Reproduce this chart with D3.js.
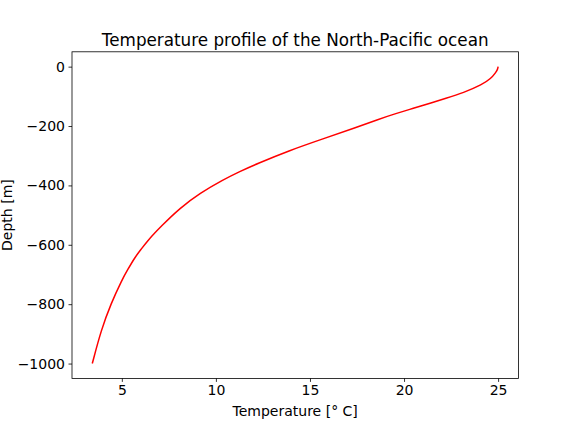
<!DOCTYPE html>
<html><head><meta charset="utf-8">
<script src="https://cdn.jsdelivr.net/npm/d3@7"></script>
<style>body{margin:0;background:#fff}svg{display:block}text{font-family:"DejaVu Sans",sans-serif;fill:#000}</style>
</head><body><svg id="c" width="576" height="432"></svg>
<script>
const depth = [0, -10, -20, -40, -60, -88, -107, -124, -141, -158, -177, -206, -243, -282, -328, -353, -381, -426, -476, -538, -583, -617, -640, -685, -719, -797, -887, -1000];
const temperature = [25.0, 24.97, 24.87, 24.62, 24.16, 23.15, 22.22, 21.34, 20.45, 19.57, 18.65, 17.4, 15.7, 13.92, 12.15, 11.27, 10.38, 9.15, 8.09, 7.08, 6.41, 6.0, 5.72, 5.3, 5.0, 4.43, 3.9, 3.43];
const xTicks = [5, 10, 15, 20, 25];
const yTicks = [0, -200, -400, -600, -800, -1000];

const svg = d3.select("#c");
const L = 72, R = 518.4, T = 51.8, B = 378.4;
const xmin = d3.min(temperature), xmax = d3.max(temperature);
const dx = (xmax - xmin) * 0.05;
const ymin = d3.min(depth), ymax = d3.max(depth);
const dy = (ymax - ymin) * 0.05;
const x = d3.scaleLinear().domain([xmin - dx, xmax + dx]).range([L, R]);
const y = d3.scaleLinear().domain([ymin - dy, ymax + dy]).range([B, T]);

const pts = depth.map((d, i) => [temperature[i], d]);
svg.append("path").datum(pts)
  .attr("fill", "none").attr("stroke", "red").attr("stroke-width", 1.5)
  .attr("d", d3.line().x(p => x(p[0])).y(p => y(p[1])).curve(d3.curveBasis));

const fmt = v => v < 0 ? "\u2212" + Math.abs(v) : String(v);
const xa = svg.append("g").attr("transform", `translate(0,${B})`)
  .call(d3.axisBottom(x).tickValues(xTicks).tickSize(3.5).tickPadding(3.5).tickFormat(fmt));
const ya = svg.append("g").attr("transform", `translate(${L},0)`)
  .call(d3.axisLeft(y).tickValues(yTicks).tickSize(3.5).tickPadding(3.5).tickFormat(fmt));
[xa, ya].forEach(a => {
  a.select(".domain").remove();
  a.selectAll(".tick line").attr("stroke", "#000").attr("stroke-width", 0.8);
  a.selectAll(".tick text").attr("font-size", 14).attr("font-family", "DejaVu Sans").attr("fill", "#000");
});
svg.append("rect").attr("x", L).attr("y", T).attr("width", R - L).attr("height", B - T)
  .attr("fill", "none").attr("stroke", "#000").attr("stroke-width", 0.8);

svg.append("text").attr("x", (L + R) / 2).attr("y", 45.7).attr("text-anchor", "middle")
  .attr("font-size", 16.8).text("Temperature profile of the North-Pacific ocean");
svg.append("text").attr("x", (L + R) / 2).attr("y", 416).attr("text-anchor", "middle")
  .attr("font-size", 14).text("Temperature [\u00b0 C]");
svg.append("text").attr("transform", `translate(11.5,${(T + B) / 2}) rotate(-90)`).attr("text-anchor", "middle")
  .attr("font-size", 14).text("Depth [m]");
</script></body></html>
